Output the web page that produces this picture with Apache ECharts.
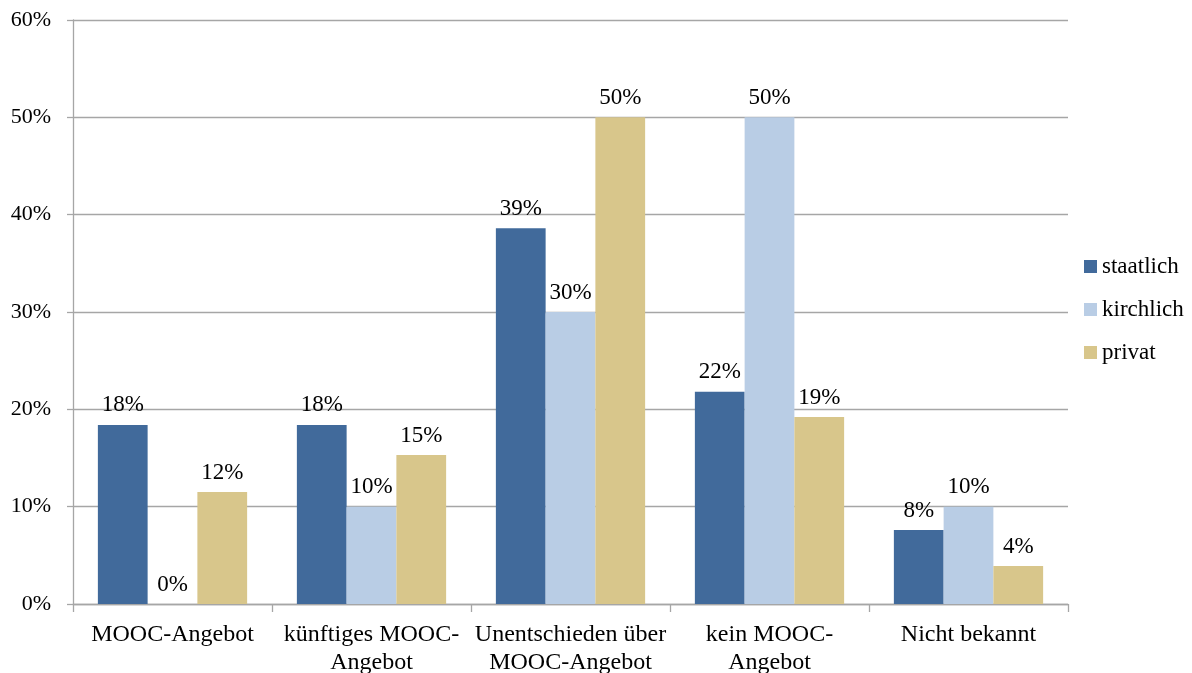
<!DOCTYPE html>
<html>
<head>
<meta charset="utf-8">
<script src="https://cdn.jsdelivr.net/npm/echarts@6/dist/echarts.min.js"></script>
<style>
  html, body { margin: 0; padding: 0; background: #fff; overflow: hidden; }
  #chart { width: 1192px; height: 673px; }
</style>
</head>
<body>
<div id="chart"></div>
<script>
// Categories (line breaks as wrapped on the axis)
const categories = [
  'MOOC-Angebot',
  'künftiges MOOC-\nAngebot',
  'Unentschieden über\nMOOC-Angebot',
  'kein MOOC-\nAngebot',
  'Nicht bekannt'
];
// Shares in percent per institution type
const staatlich = [18.4, 18.4, 38.6, 21.8, 7.6];
const kirchlich = [0, 10, 30, 50, 10];
const privat = [11.5, 15.3, 50, 19.2, 3.9];
const yTicks = [0, 10, 20, 30, 40, 50, 60];

const font = 'Liberation Serif, Times New Roman, serif';
const gridColor = '#a6a6a6';

function barSeries(name, data, color) {
  return {
    name: name,
    type: 'bar',
    data: data,
    barGap: '0%',
    barCategoryGap: '25%',
    itemStyle: { color: color },
    label: {
      show: true,
      position: 'top',
      distance: 8,
      fontFamily: font,
      fontSize: 23,
      color: '#000',
      formatter: p => Math.round(p.value) + '%'
    }
  };
}

const chart = echarts.init(document.getElementById('chart'));
chart.setOption({
  animation: false,
  grid: { left: 73, right: 124, top: 20, bottom: 69, containLabel: false, outerBoundsMode: 'none' },
  legend: {
    orient: 'vertical',
    left: 1084,
    top: 255,
    padding: 0,
    itemWidth: 13,
    itemHeight: 13,
    itemGap: 20,
    icon: 'rect',
    textStyle: { fontFamily: font, fontSize: 23, color: '#000' },
    data: ['staatlich', 'kirchlich', 'privat']
  },
  xAxis: {
    type: 'category',
    data: categories,
    axisLine: { lineStyle: { color: gridColor, width: 1.3 } },
    axisTick: { show: true, length: 8, lineStyle: { color: gridColor, width: 1.3 } },
    axisLabel: {
      fontFamily: font,
      fontSize: 24,
      color: '#000',
      margin: 17,
      lineHeight: 28,
      interval: 0
    }
  },
  yAxis: {
    type: 'value',
    min: yTicks[0],
    max: yTicks[yTicks.length - 1],
    interval: 10,
    axisLine: { show: true, lineStyle: { color: gridColor, width: 1.3 } },
    axisTick: { show: true, length: 6, lineStyle: { color: gridColor, width: 1.3 } },
    splitLine: { lineStyle: { color: gridColor, width: 1.3 } },
    axisLabel: {
      fontFamily: font,
      fontSize: 22,
      color: '#000',
      margin: 22,
      formatter: v => v + '%'
    }
  },
  series: [
    barSeries('staatlich', staatlich, '#416a9b'),
    barSeries('kirchlich', kirchlich, '#b9cde5'),
    barSeries('privat', privat, '#d8c68b')
  ]
});
</script>
</body>
</html>
